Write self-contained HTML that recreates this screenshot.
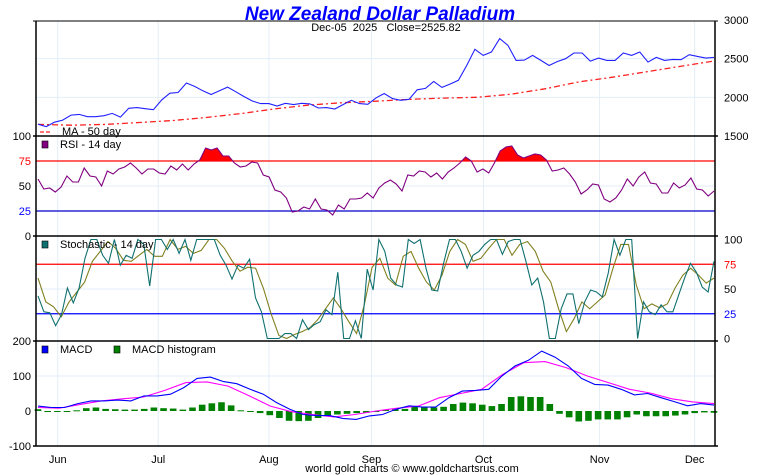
<!DOCTYPE html>
<html><head><meta charset="utf-8"><style>
body{margin:0;background:#fff;}
svg{display:block;font-family:"Liberation Sans",sans-serif;}
</style></head><body>
<svg id="c" width="760" height="475" viewBox="0 0 760 475">
<text x="380" y="20" text-anchor="middle" font-size="19" font-weight="bold" font-style="italic" fill="#0000ff">New Zealand Dollar Palladium</text>
<text x="386" y="31" text-anchor="middle" font-size="11" fill="#000" xml:space="preserve">Dec-05  2025   Close=2525.82</text>
<text x="412" y="472" text-anchor="middle" font-size="11" fill="#000">world gold charts © www.goldchartsrus.com</text>
<g id="grid"></g>
<g id="marks"></g>
<g id="axes"></g>
</svg>
<script>
const months = ["Jun","Jul","Aug","Sep","Oct","Nov","Dec"];
const monthPos = [0.032,0.18,0.343,0.494,0.659,0.83,0.97];
const price = [1653,1622,1679,1705,1770,1779,1749,1749,1762,1792,1744,1858,1867,1853,1840,1967,2054,2063,2185,2141,2084,2036,2084,2132,2071,2010,1953,1919,1919,1888,1923,1906,1923,1915,1862,1867,1849,1906,1962,1919,1910,1993,2050,1984,1962,1975,2097,2115,2206,2128,2172,2220,2411,2621,2542,2586,2760,2673,2477,2481,2542,2477,2411,2464,2499,2573,2573,2468,2507,2477,2477,2573,2542,2586,2455,2516,2477,2490,2486,2551,2529,2507,2516];
const ma50 = [1650,1640,1650,1675,1700,1740,1790,1850,1900,1930,1950,1975,1990,2000,2040,2110,2200,2260,2330,2400,2470];
const rsi = [57,47,48,44,49,60,54,54,68,60,59,50,65,62,67,69,73,68,62,67,67,63,62,70,66,72,66,72,76,88,86,88,80,80,73,69,70,74,73,61,59,46,44,38,24,25,29,27,37,27,26,21,31,27,37,37,38,43,38,48,53,56,52,45,61,60,65,64,59,63,57,64,68,73,79,75,64,67,63,73,85,89,90,81,78,80,82,81,76,65,66,68,62,54,42,46,52,51,37,34,38,46,57,50,59,64,53,52,43,43,53,48,51,58,47,46,40,45];
const stochK = [43,27,26,13,24,51,36,51,81,100,100,84,76,100,74,84,81,100,95,53,100,100,90,100,86,100,79,100,100,100,100,84,74,60,74,71,80,41,27,0,0,0,5,5,0,19,9,14,17,29,24,67,0,0,18,0,70,49,100,88,61,54,52,100,96,100,71,49,48,76,100,100,88,71,84,88,95,100,100,85,98,100,100,78,54,61,37,0,0,30,45,45,15,37,49,47,42,66,100,84,100,100,0,37,27,24,34,27,27,44,61,76,67,52,47,78];
const stochD = [61,37,32,22,37,47,57,78,88,98,91,79,78,84,90,83,83,100,90,93,86,89,100,100,91,78,68,72,71,51,25,3,0,4,7,11,19,30,41,30,17,5,34,72,81,61,54,83,88,71,57,49,64,88,100,95,78,81,91,100,100,84,95,98,88,68,57,30,7,20,37,30,37,44,71,95,95,54,30,35,31,35,51,64,71,64,56,61];
const macd = [14,10,10,21,29,29,31,29,43,43,48,67,93,97,84,78,62,48,24,5,-10,-13,-13,-21,-24,-14,-10,5,15,11,11,38,57,59,62,100,129,145,171,154,129,93,76,74,62,46,50,38,27,15,21,17];
const signal = [10,8,19,29,35,40,59,81,83,71,43,14,-2,-10,-17,-10,0,8,14,38,50,62,105,138,141,124,100,81,62,51,35,26,21];
const hist = [5,-3,-2,0,2,8,10,6,5,4,4,6,10,8,7,4,10,18,22,25,16,2,-2,-6,-12,-20,-28,-29,-28,-20,-15,-10,-8,-6,-5,-3,4,5,6,13,12,10,12,20,24,22,18,14,20,40,42,40,40,20,-8,-18,-30,-28,-24,-24,-24,-18,-10,-15,-15,-15,-13,-10,-6,-4,-5];

const NS="http://www.w3.org/2000/svg";
const L=36,R=715,X0=38,X1=714;
function el(tag,attrs,parent){const e=document.createElementNS(NS,tag);for(const k in attrs)e.setAttribute(k,attrs[k]);parent.appendChild(e);return e;}
function xAt(i,n){return X0+i*(X1-X0)/(n-1);}
const yPrice=v=>20+(3000-v)*116/1500;
const yRsi=v=>236-v;
const yStoch=v=>338.5-v*0.99;
const yMacd=v=>411-v*0.35;
const grid=document.getElementById('grid'),marks=document.getElementById('marks'),axes=document.getElementById('axes');

monthPos.forEach(p=>{el('line',{x1:L+p*(R-L),x2:L+p*(R-L),y1:21,y2:446,stroke:'#e2eef8','stroke-width':1},grid);});
[yPrice(2000),yPrice(2500),yRsi(50),yStoch(50),yMacd(100)].forEach(y=>{el('line',{x1:L,x2:R,y1:y,y2:y,stroke:'#e2eef8','stroke-width':1},grid);});

function poly(vals,yf,color,w,name,dash){
  const pts=vals.map((v,i)=>xAt(i,vals.length).toFixed(1)+','+yf(v).toFixed(1)).join(' ');
  const p=el('polyline',{points:pts,fill:'none',stroke:color,'stroke-width':w},marks);
  if(dash)p.setAttribute('stroke-dasharray',dash);
  
  
  return p;
}
poly(ma50,yPrice,'#ff2020',1.3,'ma50-line','6,3,2,3');
poly(price,yPrice,'#2020ff',1.1,'price-line');
const cp=el('clipPath',{id:'rsiclip'},marks);el('rect',{x:L,y:136,width:R-L,height:yRsi(75)-136},cp);
const fillPts=[xAt(0,rsi.length)+','+yRsi(75)].concat(rsi.map((v,i)=>xAt(i,rsi.length).toFixed(1)+','+yRsi(v).toFixed(1))).concat([xAt(rsi.length-1,rsi.length)+','+yRsi(75)]).join(' ');
const rf=el('polygon',{points:fillPts,fill:'#ff0000','clip-path':'url(#rsiclip)'},marks);


[[yRsi(75),'#ff0000'],[yRsi(25),'#0000cc'],[yStoch(75),'#ff0000'],[yStoch(25),'#0000ff']].forEach(a=>{el('line',{x1:L,x2:R,y1:a[0],y2:a[0],stroke:a[1],'stroke-width':1.2},marks);});
poly(rsi,yRsi,'#800080',1.1,'rsi-line');
poly(stochD,yStoch,'#808020',1.1,'stoch-d-line');
poly(stochK,yStoch,'#107070',1.1,'stoch-k-line');
hist.forEach((v,i)=>{const x=xAt(i,hist.length);const y0=yMacd(0),y=yMacd(v);
  const b=el('rect',{x:x-3.3,y:Math.min(y0,y),width:6.6,height:Math.max(1,Math.abs(y-y0)),fill:'#008000'},marks);
  
  });
poly(signal,yMacd,'#ff00ff',1.1,'macd-signal-line');
poly(macd,yMacd,'#0000ff',1.1,'macd-line');

el('line',{x1:L,x2:L,y1:21,y2:446,stroke:'#000','stroke-width':1.5},axes);
el('line',{x1:R,x2:R,y1:21,y2:446,stroke:'#000','stroke-width':1.5},axes);
[21,136,236,341,446].forEach(y=>el('line',{x1:L-3,x2:R+3,y1:y,y2:y,stroke:'#000','stroke-width':y==21?1:1.5},axes));
function txt(x,y,s,anchor,color,name){const t=el('text',{x:x,y:y,'font-size':11,'text-anchor':anchor,fill:color||'#000'},axes);t.textContent=s;return t;}
[[3000,yPrice(3000)],[2500,yPrice(2500)],[2000,yPrice(2000)],[1500,yPrice(1500)]].forEach(a=>txt(724,a[1]+4,String(a[0]),'start','#000','price-tick-label'));
[[100,'#000'],[75,'#ff0000'],[50,'#000'],[25,'#0000ff'],[0,'#000']].forEach(a=>txt(31,yRsi(a[0])+4,String(a[0]),'end',a[1],'rsi-tick-label'));
[[100,'#000'],[75,'#ff0000'],[50,'#000'],[25,'#0000ff'],[0,'#000']].forEach(a=>txt(724,yStoch(a[0])+4,String(a[0]),'start',a[1],'stoch-tick-label'));
[200,100,0,-100].forEach(v=>txt(31,yMacd(v)+4,String(v),'end','#000','macd-tick-label'));
months.forEach((m,i)=>txt(L+monthPos[i]*(R-L),463,m,'middle','#000','month-label'));
function leg(x,y,color,label,name,sq){const g=el('g',{},axes);
  if(sq)el('rect',{x:x,y:y-7,width:6,height:7,fill:color,stroke:'#000','stroke-width':0.6},g);
  else el('line',{x1:x-4,x2:x+8,y1:y-3,y2:y-3,stroke:color,'stroke-width':1.3,'stroke-dasharray':'4,2'},g);
  const t=el('text',{x:x+18,y:y,'font-size':11,fill:'#000'},g);t.textContent=label;}
leg(44,135,'#ff2020','MA - 50 day','ma50-legend',false);
leg(42,148,'#800080','RSI - 14 day','rsi-legend',true);
leg(42,248,'#107070','Stochastic - 14 day','stoch-legend',true);
leg(42,353,'#0000ff','MACD','macd-legend',true);
leg(114,353,'#008000','MACD histogram','macd-hist-legend',true);
</script>
</body></html>
